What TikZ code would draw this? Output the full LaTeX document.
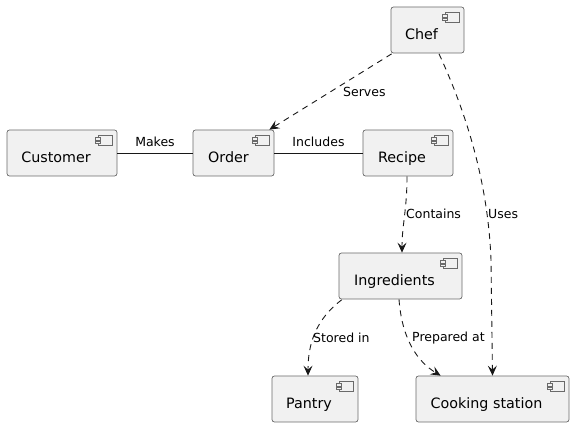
\documentclass[tikz,border=0pt]{standalone}
\usepackage{fontspec}
\setmainfont{DejaVu Sans}
\usetikzlibrary{arrows.meta,calc}
\definecolor{boxfill}{HTML}{F1F1F1}
\definecolor{boxline}{HTML}{6A6A6A}
\definecolor{edgecol}{HTML}{181818}
\tikzset{
  comp/.style={draw=boxline, fill=boxfill, line width=0.7pt, rounded corners=2.5pt,
    minimum height=46pt, inner sep=0pt,
    path picture={
      \draw[boxline, line width=0.6pt, fill=boxfill, sharp corners]
        ([xshift=-19pt,yshift=-5pt]path picture bounding box.north east) rectangle
        ([xshift=-5pt,yshift=-15pt]path picture bounding box.north east);
      \draw[boxline, line width=0.6pt, fill=boxfill, sharp corners]
        ([xshift=-21.5pt,yshift=-7.5pt]path picture bounding box.north east) rectangle
        ([xshift=-16.5pt,yshift=-10pt]path picture bounding box.north east);
      \draw[boxline, line width=0.6pt, fill=boxfill, sharp corners]
        ([xshift=-21.5pt,yshift=-11pt]path picture bounding box.north east) rectangle
        ([xshift=-16.5pt,yshift=-13.5pt]path picture bounding box.north east);
    }},
  boxtext/.style={font=\fontsize{14.3pt}{16pt}\selectfont, anchor=base, inner sep=0pt},
  lbl/.style={font=\fontsize{12.5pt}{14pt}\selectfont, anchor=west, inner sep=0pt},
  lblc/.style={font=\fontsize{12.5pt}{14pt}\selectfont, anchor=center, inner sep=0pt},
  solidedge/.style={draw=edgecol, line width=0.9pt},
  dashedge/.style={draw=edgecol, line width=0.9pt, dash pattern=on 6pt off 5pt,
    -{Stealth[length=10pt,width=9pt,inset=4pt]}},
}
\begin{document}
\begin{tikzpicture}[x=1pt,y=-1pt]
\useasboundingbox (0,0) rectangle (574,427);
% boxes
\node[comp, minimum width=73pt]  (chef)  at (427.5,30)  {};
\node[comp, minimum width=110pt] (cust)  at (62,153)    {};
\node[comp, minimum width=81pt]  (order) at (233.5,153) {};
\node[comp, minimum width=90pt]  (recipe) at (408,153)  {};
\node[comp, minimum width=123pt] (ingr)  at (400.5,276) {};
\node[comp, minimum width=86pt]  (pantry) at (315,399)  {};
\node[comp, minimum width=153pt] (cook)  at (492.5,399) {};
% box texts
\node[boxtext] (chefT)   at ($(chef)+(-6,10)$)   {Chef};
\node[boxtext] (custT)   at ($(cust)+(-6,10)$)   {Customer};
\node[boxtext] (orderT)  at ($(order)+(-5,10)$)  {Order};
\node[boxtext] (recipeT) at ($(recipe)+(-6,10)$) {Recipe};
\node[boxtext] (ingrT)   at ($(ingr)+(-6,10)$)   {Ingredients};
\node[boxtext] (pantryT) at ($(pantry)+(-6,10)$) {Pantry};
\node[boxtext] (cookT)   at ($(cook)+(-6,10)$)   {Cooking station};
% solid links
\draw[solidedge] (cust.east) -- (order.west);
\node[lblc] (makesL) at (155,142) {Makes};
\draw[solidedge] (order.east) -- (recipe.west);
\node[lblc] (inclL) at (318.5,142) {Includes};
% dashed arrows
\draw[dashedge] ([xshift=1pt,yshift=-0.5pt]chef.south west) -- ([xshift=-5pt]order.north east);
\node[lbl] (servesL) at (343,92) {Serves};
\draw[dashedge] ([xshift=11.5pt,yshift=-0.5pt]chef.south) .. controls (465,110) and (488,180) .. (491,260) -- (cook.north);
\node[lbl] (usesL) at (488,214) {Uses};
\draw[dashedge] ([xshift=-1pt]recipe.south) .. controls (407,210) and (402,225) .. ([xshift=1.5pt]ingr.north);
\node[lbl] (containsL) at (406,214) {Contains};
\draw[dashedge] ([xshift=3pt,yshift=-0.5pt]ingr.south west) .. controls (315,320) and (308,345) .. ([xshift=-7pt]pantry.north);
\node[lbl] (storedL) at (313,338) {Stored in};
\draw[dashedge] ([xshift=-1.5pt]ingr.south) .. controls (402,340) and (418,362) .. ([xshift=25pt]cook.north west);
\node[lbl] (prepL) at (412,338) {Prepared at};
\end{tikzpicture}
\end{document}
